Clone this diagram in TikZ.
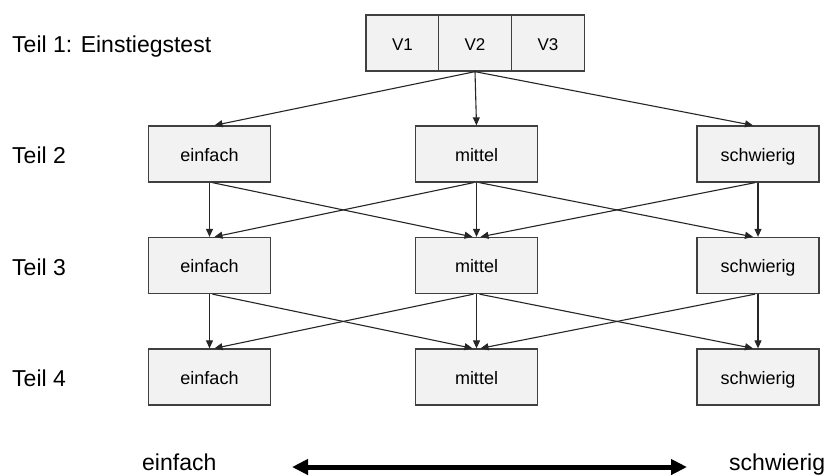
\documentclass[tikz,border=0pt]{standalone}
\usepackage{fontspec}
\setmainfont{Liberation Sans}
\usetikzlibrary{arrows.meta}
\definecolor{boxfill}{HTML}{F2F2F2}
\definecolor{boxline}{HTML}{404040}
\definecolor{arrowcol}{HTML}{262626}
\begin{document}
\begin{tikzpicture}[x=1pt,y=-1pt,
  box/.style={draw=boxline, fill=boxfill, line width=1.3pt, minimum width=122pt, minimum height=56pt, inner sep=0pt, font=\fontsize{18}{20}\selectfont, text height=14pt, text depth=0pt},
  vbox/.style={box, minimum width=73pt, font=\fontsize{17}{20}\selectfont},
  conn/.style={draw=arrowcol, line width=1.1pt, -{Triangle[length=8pt,width=7pt]}},
  bigarrow/.style={draw=black, line width=5pt, {Triangle[length=16pt,width=15pt]}-{Triangle[length=16pt,width=15pt]}},
  lbl/.style={anchor=base west, inner sep=0pt, font=\fontsize{23}{26}\selectfont}]
\useasboundingbox (0,0) rectangle (826,475);
\fill[white] (0,0) rectangle (826,475);

% left labels
\node[lbl] (t1) at (12,52) {Teil 1: Einstiegstest};
\node[lbl] (t2) at (12,163) {Teil 2};
\node[lbl] (t3) at (12,275) {Teil 3};
\node[lbl] (t4) at (12,386) {Teil 4};

% top boxes
\node[vbox] (v1) at (402.5,43) {V1};
\node[vbox] (v2) at (475,43) {V2};
\node[vbox] (v3) at (548,43) {V3};

% rows
\node[box] (e2) at (209.5,154) {einfach};
\node[box] (m2) at (476.5,154) {mittel};
\node[box] (s2) at (758,154) {schwierig};
\node[box] (e3) at (209.5,265.5) {einfach};
\node[box] (m3) at (476.5,265.5) {mittel};
\node[box] (s3) at (758,265.5) {schwierig};
\node[box] (e4) at (209.5,377) {einfach};
\node[box] (m4) at (476.5,377) {mittel};
\node[box] (s4) at (758,377) {schwierig};

% from V2
\draw[conn] (v2.south) -- ([xshift=5pt]e2.north);
\draw[conn] (v2.south) -- (m2.north);
\draw[conn] (v2.south) -- ([xshift=-5pt]s2.north);

% row 2 -> row 3
\draw[conn] (e2.south) -- (e3.north);
\draw[conn] ([xshift=3pt]e2.south) -- ([xshift=-4pt]m3.north);
\draw[conn] ([xshift=-3pt]m2.south) -- ([xshift=5pt]e3.north);
\draw[conn] (m2.south) -- (m3.north);
\draw[conn] ([xshift=3pt]m2.south) -- ([xshift=-5pt]s3.north);
\draw[conn] ([xshift=-3pt]s2.south) -- ([xshift=4pt]m3.north);
\draw[conn] (s2.south) -- (s3.north);

% row 3 -> row 4
\draw[conn] (e3.south) -- (e4.north);
\draw[conn] ([xshift=3pt]e3.south) -- ([xshift=-4pt]m4.north);
\draw[conn] ([xshift=-3pt]m3.south) -- ([xshift=5pt]e4.north);
\draw[conn] (m3.south) -- (m4.north);
\draw[conn] ([xshift=3pt]m3.south) -- ([xshift=-5pt]s4.north);
\draw[conn] ([xshift=-3pt]s3.south) -- ([xshift=4pt]m4.north);
\draw[conn] (s3.south) -- (s4.north);

% bottom scale
\node[lbl] (le) at (142,470) {einfach};
\node[lbl] (ls) at (729,470) {schwierig};
\coordinate (al) at (292,467);
\coordinate (ar) at (687,467);
\draw[bigarrow] (al) -- (ar);
\end{tikzpicture}
\end{document}
